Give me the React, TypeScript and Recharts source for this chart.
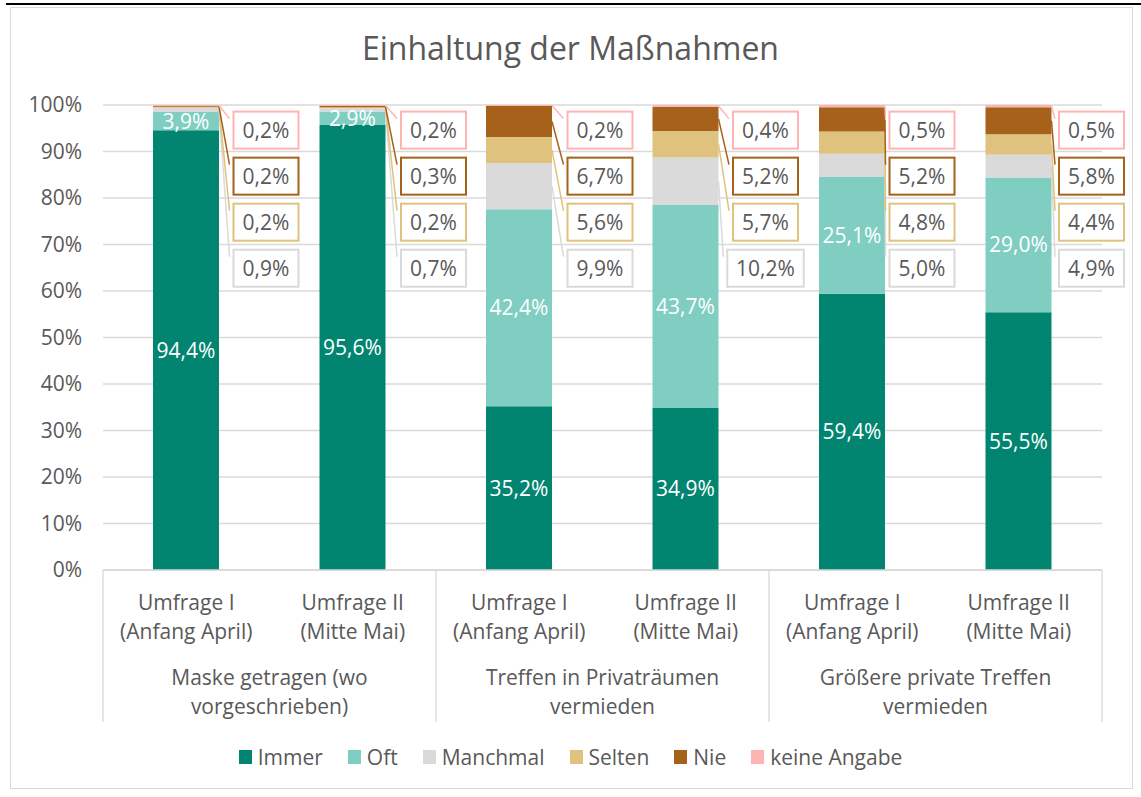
import React from "react";
import {
  BarChart,
  Bar,
  XAxis,
  YAxis,
  CartesianGrid,
  LabelList,
} from "recharts";

const CATEGORIES = [
  "Umfrage I\n(Anfang April)",
  "Umfrage II\n(Mitte Mai)",
  "Umfrage I\n(Anfang April)",
  "Umfrage II\n(Mitte Mai)",
  "Umfrage I\n(Anfang April)",
  "Umfrage II\n(Mitte Mai)",
];
const GROUPS = [
  "Maske getragen (wo\nvorgeschrieben)",
  "Treffen in Privaträumen\nvermieden",
  "Größere private Treffen\nvermieden",
];

const IMMER = [94.4, 95.6, 35.2, 34.9, 59.4, 55.5];
const OFT = [3.9, 2.9, 42.4, 43.7, 25.1, 29.0];
const MANCHMAL = [0.9, 0.7, 9.9, 10.2, 5.0, 4.9];
const SELTEN = [0.2, 0.2, 5.6, 5.7, 4.8, 4.4];
const NIE = [0.2, 0.3, 6.7, 5.2, 5.2, 5.8];
const KEINE = [0.2, 0.2, 0.2, 0.4, 0.5, 0.5];

const Y_TICKS = [0, 0.1, 0.2, 0.3, 0.4, 0.5, 0.6, 0.7, 0.8, 0.9, 1];

const data = CATEGORIES.map((cat, i) => ({
  cat: i,
  immer: IMMER[i],
  oft: OFT[i],
  manchmal: MANCHMAL[i],
  selten: SELTEN[i],
  nie: NIE[i],
  keine: KEINE[i],
}));

const SERIES = [
  { key: "immer", name: "Immer", color: "#018571" },
  { key: "oft", name: "Oft", color: "#80CDC1" },
  { key: "manchmal", name: "Manchmal", color: "#DADADA" },
  { key: "selten", name: "Selten", color: "#DFC27D" },
  { key: "nie", name: "Nie", color: "#A6611A" },
  { key: "keine", name: "keine Angabe", color: "#FFB4B4" },
];

// layout
const W = 1141;
const H = 797;
const PLOT_LEFT = 103;
const PLOT_RIGHT = 1102;
const PLOT_TOP = 105;
const PLOT_BOTTOM = 570;
const PLOT_W = PLOT_RIGHT - PLOT_LEFT;
const PLOT_H = PLOT_BOTTOM - PLOT_TOP;
const TEXT = "#595959";
const GRID = "#D9D9D9";
const FONT = "'Open Sans', 'Noto Sans', sans-serif";
const FS = 21;

// callout boxes: row (fraction of plot height) per series, x offset of box centre per bar
const CALLOUT_ROW: Record<string, number> = { keine: 0.946, nie: 0.847, selten: 0.748, manchmal: 0.649 };
const BOX_OFFSET = [47, 48, 48, 47, 37, 40];

const fmt = (v: number) => `${v.toFixed(1).replace(".", ",")}%`;

function makeCallout(key: string, color: string) {
  return (props: any) => {
    const vb = props.viewBox || {};
    const x = Number(props.x ?? vb.x);
    const y = Number(props.y ?? vb.y);
    const width = Number(props.width ?? vb.width);
    const height = Number(props.height ?? vb.height);
    const index = props.index;
    const row = (data[index] as any)[key] as number;
    const label = fmt(row);
    const bw = 19 + 11.5 * label.length;
    const bh = 37;
    const cx = x + width + BOX_OFFSET[index];
    const cy = PLOT_TOP + (1 - CALLOUT_ROW[key]) * PLOT_H;
    const left = cx - bw / 2;
    const top = cy - bh / 2;
    return (
      <g>
        <line
          x1={x + width}
          y1={y + height / 2}
          x2={left - 4}
          y2={top + 7}
          stroke={color}
          strokeWidth={1.5}
        />
        <rect x={left} y={top} width={bw} height={bh} fill="#fff" stroke={color} strokeWidth={2} />
        <text
          x={cx}
          y={cy}
          textAnchor="middle"
          dominantBaseline="central"
          fill={TEXT}
          fontSize={FS}
          fontFamily={FONT}
        >
          {label}
        </text>
      </g>
    );
  };
}

const CategoryTick = (props: any) => {
  const { x, y, index } = props;
  const band = PLOT_W / CATEGORIES.length;
  const lines = CATEGORIES[index].split("\n");
  const els: React.ReactNode[] = [];
  lines.forEach((l, i) =>
    els.push(
      <text key={"s" + i} x={x} y={y + 32 + i * 29} textAnchor="middle" dominantBaseline="central" fill={TEXT} fontSize={FS}>
        {l}
      </text>
    )
  );
  if (index % 2 === 0) {
    GROUPS[index / 2].split("\n").forEach((l, i) =>
      els.push(
        <text key={"g" + i} x={x + band / 2} y={y + 107 + i * 29} textAnchor="middle" dominantBaseline="central" fill={TEXT} fontSize={FS}>
          {l}
        </text>
      )
    );
    els.push(<line key="sepL" x1={x - band / 2} y1={y} x2={x - band / 2} y2={y + 152} stroke={GRID} strokeWidth={1.3} />);
  }
  if (index === CATEGORIES.length - 1) {
    els.push(<line key="sepR" x1={x + band / 2} y1={y} x2={x + band / 2} y2={y + 152} stroke={GRID} strokeWidth={1.3} />);
  }
  return <g>{els}</g>;
};

export default function App() {
  return (
    <div style={{ position: "absolute", left: 0, top: 0, width: W, height: H, fontFamily: FONT, background: "#fff" }}>
      <div style={{ position: "absolute", left: 6, top: 3, width: W - 6, height: 2, background: "#000" }} />
      <div style={{ position: "absolute", left: 10, top: 7, width: 1121, height: 780, border: "1px solid #D9D9D9" }} />
      <div
        style={{
          position: "absolute",
          left: 0,
          top: 28,
          width: W,
          textAlign: "center",
          fontSize: 32,
          color: TEXT,
          lineHeight: "40px",
        }}
      >
        Einhaltung der Maßnahmen
      </div>
      <div style={{ position: "absolute", left: 0, top: 0 }}>
        <BarChart
          width={W}
          height={H}
          data={data}
          stackOffset="expand"
          margin={{ top: PLOT_TOP, left: PLOT_LEFT - 80, right: W - PLOT_RIGHT, bottom: H - PLOT_BOTTOM - 152 }}
        >
          <CartesianGrid vertical={false} stroke={GRID} strokeWidth={1.3} />
          <XAxis
            dataKey="cat"
            type="category"
            interval={0}
            height={152}
            tickLine={false}
            tickSize={0}
            tickMargin={0}
            axisLine={{ stroke: GRID, strokeWidth: 1.3 }}
            tick={<CategoryTick />}
          />
          <YAxis
            width={80}
            domain={[0, 1]}
            ticks={Y_TICKS}
            tickFormatter={(v: number) => `${Math.round(v * 100)}%`}
            tickLine={false}
            axisLine={false}
            tickSize={0}
            tickMargin={21}
            tick={{ fill: TEXT, fontSize: FS }}
          />
          {SERIES.map((s) => (
            <Bar key={s.key} dataKey={s.key} name={s.name} stackId="a" fill={s.color} barSize={66} isAnimationActive={false}>
              {s.key === "immer" || s.key === "oft" ? (
                <LabelList dataKey={s.key} position="center" fill="#fff" fontSize={FS} formatter={(v: any) => fmt(Number(v))} />
              ) : (
                <LabelList dataKey={s.key} content={makeCallout(s.key, s.color)} />
              )}
            </Bar>
          ))}
        </BarChart>
      </div>
      <div
        style={{
          position: "absolute",
          left: 0,
          top: 742,
          width: W,
          display: "flex",
          justifyContent: "center",
          alignItems: "center",
          fontSize: FS,
          lineHeight: "30px",
          color: TEXT,
        }}
      >
        {SERIES.map((s, i) => (
          <div key={s.key} style={{ display: "flex", alignItems: "center", marginLeft: i === 0 ? 0 : 25 }}>
            <span style={{ display: "inline-block", width: 13, height: 14, background: s.color, marginRight: 6 }} />
            <span>{s.name}</span>
          </div>
        ))}
      </div>
    </div>
  );
}
